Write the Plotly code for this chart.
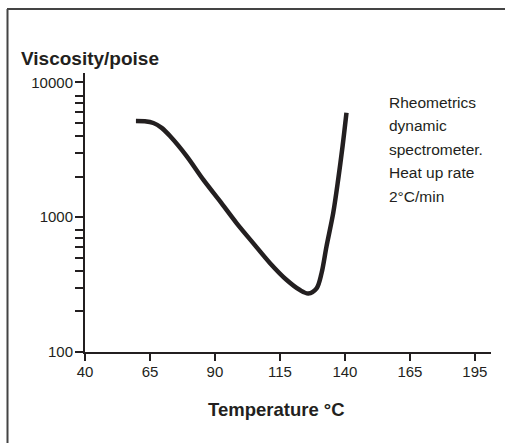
import plotly.graph_objects as go

temperature = [59.6, 63, 66.3, 69.5, 72.7, 79.1, 85.5, 92, 98.3, 104.7, 111.2, 117.6, 122.7, 125.9, 129.1, 131, 132.9, 135.5, 137.4, 139.1, 140.6]
viscosity = [5180, 5150, 5000, 4600, 4000, 2840, 1900, 1310, 905, 643, 456, 342, 288, 272, 297, 384, 605, 1075, 1900, 3370, 5970]

x_tickvals = [40, 65, 90, 115, 140, 165, 190]
x_ticktext = ["40", "65", "90", "115", "140", "165", "195"]
y_tickvals = [100, 1000, 10000]
y_ticktext = ["100", "1000", "10000"]
y_minor = [200, 300, 400, 500, 600, 700, 800, 2000, 3000, 4000, 5000, 6000, 7000, 8000]
note_lines = ["Rheometrics", "dynamic", "spectrometer.", "Heat up rate", "2°C/min"]

FONT = "Liberation Sans, Arial, sans-serif"
INK = "#231f20"

fig = go.Figure()
fig.add_trace(go.Scatter(
    x=temperature, y=viscosity, mode="lines",
    line=dict(color=INK, width=4.5, shape="spline", smoothing=0.9),
    showlegend=False, hoverinfo="skip"))

fig.update_xaxes(
    range=[40, 196.2], tickvals=x_tickvals, ticktext=x_ticktext,
    showline=True, linecolor=INK, linewidth=2, ticks="outside", ticklen=7,
    tickcolor=INK, tickwidth=2, showgrid=False, zeroline=False,
    ticklabelstandoff=-2,
    tickfont=dict(family=FONT, size=15, color=INK))
fig.update_yaxes(
    type="log", range=[2, 4.07], tickvals=y_tickvals, ticktext=y_ticktext,
    showline=True, linecolor=INK, linewidth=2, ticks="outside", ticklen=8,
    tickcolor=INK, tickwidth=2, showgrid=False, zeroline=False,
    ticklabelstandoff=-1,
    tickfont=dict(family=FONT, size=15, color=INK),
    minor=dict(tickvals=y_minor, ticks="outside", ticklen=8, tickcolor=INK, tickwidth=2, showgrid=False))

L, R, T, B = 85, 14, 73, 91
W, H = 505, 443
pw, ph = W - L - R, H - T - B

def px(xp):
    return (xp - L) / pw

def py(yp):
    return (H - B - yp) / ph

annotations = [
    dict(text="<b>Viscosity/poise</b>", x=px(19), y=py(58), xref="paper", yref="paper",
         xanchor="left", yanchor="middle", showarrow=False,
         font=dict(family=FONT, size=19, color=INK)),
    dict(text="<b>Temperature °C</b>", x=px(276), y=py(409), xref="paper", yref="paper",
         xanchor="center", yanchor="middle", showarrow=False,
         font=dict(family=FONT, size=18.5, color=INK)),
]
for i, line in enumerate(note_lines):
    annotations.append(dict(text=line, x=px(387), y=py(102 + 23.5 * i), xref="paper", yref="paper",
                            xanchor="left", yanchor="middle", showarrow=False,
                            font=dict(family=FONT, size=15.5, color=INK)))

shapes = [
    dict(type="line", xref="paper", yref="paper", x0=px(7.5), x1=px(7.5), y0=py(9), y1=py(450),
         line=dict(color="#444444", width=2)),
    dict(type="line", xref="paper", yref="paper", x0=px(7), x1=px(510), y0=py(9), y1=py(9),
         line=dict(color="#444444", width=2)),
]

fig.update_layout(
    width=W, height=H, margin=dict(l=L, r=R, t=T, b=B),
    paper_bgcolor="white", plot_bgcolor="white",
    annotations=annotations, shapes=shapes, showlegend=False)

fig.write_html("out.html", config={"displayModeBar": False},
               post_script="document.body.style.margin='0';document.body.style.overflow='hidden';")
